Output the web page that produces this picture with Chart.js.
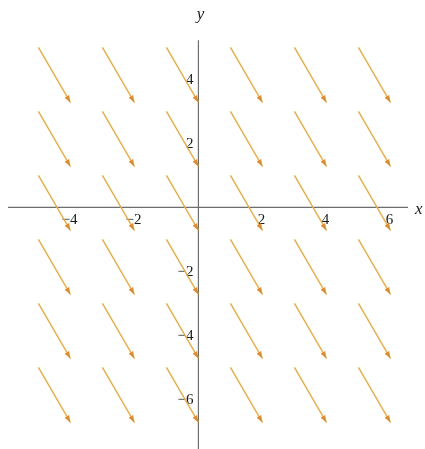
<!DOCTYPE html>
<html>
<head>
<meta charset="utf-8">
<script src="https://cdn.jsdelivr.net/npm/chart.js@4"></script>
<style>
  body { margin: 0; background: #fff; }
  canvas { display: block; }
</style>
</head>
<body>
<canvas id="field" width="425" height="449"></canvas>
<script>
// Grid of arrow tails and the (constant) field vector
const tailX = [-5, -3, -1, 1, 3, 5];
const tailY = [5, 3, 1, -1, -3, -5];
const fieldVector = [1, -1.72];

// Axis tick labels
const xTickLabels = [-4, -2, 2, 4, 6];
const yTickLabels = [-6, -4, -2, 2, 4];

// Visible extent of the axis lines
const xAxisRange = [-5.95, 6.55];
const yAxisRange = [-7.6, 5.22];

const arrowColor = 'rgba(226, 172, 70, 0.95)';
const headColor = '#DE8F2A';

// Build one line dataset per arrow
const datasets = [];
tailY.forEach(y => {
  tailX.forEach(x => {
    datasets.push({
      data: [{ x: x, y: y }, { x: x + fieldVector[0], y: y + fieldVector[1] }],
      borderColor: arrowColor,
      borderWidth: 1.5,
      pointRadius: 0,
      fill: false
    });
  });
});

function minusSign(v) {
  return v < 0 ? '\u2212' + Math.abs(v) : String(v);
}

// Axes through the origin, tick labels, axis names
const axesPlugin = {
  id: 'axes',
  beforeDatasetsDraw(chart) {
    const ctx = chart.ctx;
    const xs = chart.scales.x, ys = chart.scales.y;
    const ox = xs.getPixelForValue(0), oy = ys.getPixelForValue(0);
    ctx.save();
    ctx.strokeStyle = '#6e6e6e';
    ctx.lineWidth = 1.2;
    ctx.beginPath();
    ctx.moveTo(xs.getPixelForValue(xAxisRange[0]), oy);
    ctx.lineTo(xs.getPixelForValue(xAxisRange[1]), oy);
    ctx.moveTo(ox, ys.getPixelForValue(yAxisRange[0]));
    ctx.lineTo(ox, ys.getPixelForValue(yAxisRange[1]));
    ctx.stroke();

    ctx.fillStyle = '#1a1a1a';
    ctx.font = '15px "Liberation Serif", "DejaVu Serif", serif';
    ctx.textAlign = 'center';
    ctx.textBaseline = 'top';
    xTickLabels.forEach(v => {
      ctx.fillText(minusSign(v), xs.getPixelForValue(v) - 1, oy + 5);
    });
    ctx.textAlign = 'right';
    ctx.textBaseline = 'middle';
    yTickLabels.forEach(v => {
      ctx.fillText(minusSign(v), ox - 5, ys.getPixelForValue(v) + 1);
    });

    ctx.font = 'italic 17px "Liberation Serif", "DejaVu Serif", serif';
    ctx.textAlign = 'left';
    ctx.textBaseline = 'middle';
    ctx.fillText('x', xs.getPixelForValue(xAxisRange[1]) + 7, oy + 2);
    ctx.textAlign = 'center';
    ctx.fillText('y', ox + 2, 15);
    ctx.restore();
  },
  afterDatasetsDraw(chart) {
    const ctx = chart.ctx;
    ctx.save();
    ctx.fillStyle = headColor;
    chart.data.datasets.forEach((ds, i) => {
      const pts = chart.getDatasetMeta(i).data;
      const p0 = pts[0], p1 = pts[1];
      const ang = Math.atan2(p1.y - p0.y, p1.x - p0.x);
      const len = 7, half = 2.6;
      ctx.beginPath();
      ctx.moveTo(p1.x, p1.y);
      ctx.lineTo(p1.x - len * Math.cos(ang) + half * Math.sin(ang),
                 p1.y - len * Math.sin(ang) - half * Math.cos(ang));
      ctx.lineTo(p1.x - len * Math.cos(ang) - half * Math.sin(ang),
                 p1.y - len * Math.sin(ang) + half * Math.cos(ang));
      ctx.closePath();
      ctx.fill();
    });
    ctx.restore();
  }
};

const ctxField = document.getElementById('field').getContext('2d');
const fieldChart = new Chart(ctxField, {
  type: 'line',
  data: { datasets: datasets },
  options: {
    responsive: false,
    animation: false,
    layout: { padding: 0 },
    plugins: {
      legend: { display: false },
      tooltip: { enabled: false }
    },
    scales: {
      x: { type: 'linear', min: -6.2, max: 7.08, display: false },
      y: { type: 'linear', min: -7.55, max: 6.48, display: false }
    }
  },
  plugins: [axesPlugin]
});
</script>
</body>
</html>
